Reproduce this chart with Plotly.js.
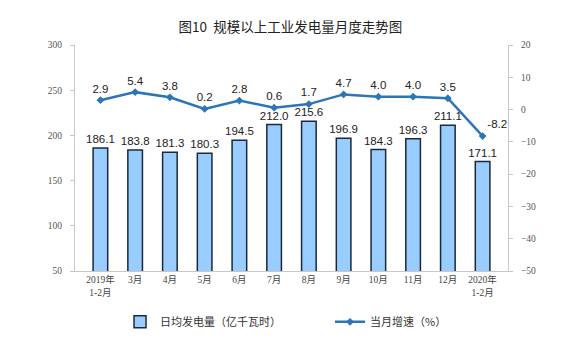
<!DOCTYPE html>
<html><head><meta charset="utf-8">
<script src="https://cdn.plot.ly/plotly-3.0.1.min.js"></script>
<style>html,body{margin:0;padding:0;background:#fff}#c{width:575px;height:363px}</style>
</head><body><div id="c"></div>
<script>
const categories = ["2019年<br>1-2月","3月","4月","5月","6月","7月","8月","9月","10月","11月","12月","2020年<br>1-2月"];
const dailyOutput = [186.1,183.8,181.3,180.3,194.5,212.0,215.6,196.9,184.3,196.3,211.1,171.1];
const growthRate = [2.9,5.4,3.8,0.2,2.8,0.6,1.7,4.7,4.0,4.0,3.5,-8.2];

const bars = {
  type:'bar', x:categories, y:dailyOutput, name:'日均发电量（亿千瓦时）',
  marker:{color:'#99ccff', line:{color:'#1a2a3a', width:1.5}},
  width:0.42,
  text:dailyOutput.map(v=>v.toFixed(1)), textposition:'outside', constraintext:'none',
  textfont:{family:'Liberation Sans, Arial', size:11.5, color:'#222'},
  cliponaxis:false, yaxis:'y'
};
const line = {
  type:'scatter', mode:'lines+markers+text', x:categories, y:growthRate, name:'当月增速（%）',
  line:{color:'#2e75b6', width:2.5}, marker:{symbol:'diamond', size:6, color:'#2e75b6'},
  text:growthRate.map(v=>v.toFixed(1)),
  textposition:growthRate.map((v,i)=> i===growthRate.length-1 ? 'top right' : 'top center'),
  textfont:{family:'Liberation Sans, Arial', size:11.5, color:'#222'},
  cliponaxis:false, yaxis:'y2'
};
const tickFont = {family:'Liberation Serif, Times New Roman, serif', size:9.5, color:'#555'};
const layout = {
  width:575, height:363,
  margin:{l:75, r:67, t:45, b:92},
  paper_bgcolor:'#fff', plot_bgcolor:'#fff',
  title:{text:'图10  规模以上工业发电量月度走势图', x:0.505, xanchor:'center', y:0.925, yanchor:'middle',
    font:{family:'Noto Sans CJK SC', size:13.5, color:'#222'}},
  showlegend:true,
  legend:{orientation:'h', x:0.104, xanchor:'left', y:-0.225, yanchor:'middle',
    font:{family:'Noto Sans CJK SC', size:11, color:'#333'}, entrywidth:165, itemwidth:30},
  xaxis:{type:'category', showline:true, linecolor:'#c8c8c8', linewidth:1, ticks:'', tickfont:{family:'Liberation Serif, Noto Sans CJK SC', size:9.5, color:'#444'},
    showgrid:false, zeroline:false, tickangle:0},
  yaxis:{range:[50,300], dtick:50, showline:true, linecolor:'#c8c8c8', ticks:'outside', ticklen:4, tickcolor:'#c8c8c8',
    showgrid:false, zeroline:false, tickfont:tickFont, ticklabelstandoff:6},
  yaxis2:{range:[-50,20], dtick:10, overlaying:'y', side:'right', showline:true, linecolor:'#c8c8c8', ticks:'outside', ticklen:4, tickcolor:'#c8c8c8',
    showgrid:false, zeroline:false, tickfont:tickFont, ticklabelstandoff:6}
};
Plotly.newPlot('c',[bars,line],layout,{displayModeBar:false, staticPlot:true});
</script></body></html>
